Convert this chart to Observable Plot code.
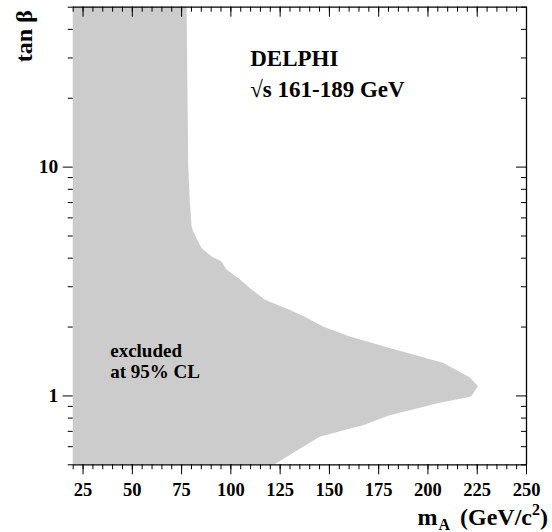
<!DOCTYPE html>
<html><head><meta charset="utf-8">
<script src="https://cdn.jsdelivr.net/npm/d3@7"></script>
<script src="https://cdn.jsdelivr.net/npm/@observablehq/plot@0.6"></script>
<style>body{margin:0;background:#fff} svg{display:block}</style>
</head><body><div id="chart"></div>
<script>
// Excluded-region boundary (m_A in GeV/c^2, tan beta), from top to bottom
const boundaryM   = [77.8, 78.6, 79.4, 80.3, 81.1, 85.4, 90.5, 95.5, 98.0, 104.0, 110.0, 117.5, 130.0, 137.7, 147.0, 160.6, 180.8, 207.8, 221.4, 225.6, 222.2, 206.2, 180.8, 167.3, 158.9, 145.3, 136.1, 122.5];
const boundaryTan = [50,   10,   7.1,  5.5,  5.2,  4.4,  4.05, 3.85, 3.55, 3.26,  2.94,  2.62,  2.37,  2.21,  2.0,   1.81,  1.61,  1.39,  1.2,   1.1,   0.99,  0.93,  0.82,  0.74,  0.71,  0.66,  0.59,  0.5];
const xDomain = [20, 250];
const yDomain = [0.5, 50];
const xMajorTicks = [25, 50, 75, 100, 125, 150, 175, 200, 225, 250];
const xMinorTicks = d3.range(20, 251, 5);
const yMajorTicks = [1, 10];
const yMinorTicks = [0.5, 0.6, 0.7, 0.8, 0.9, 2, 3, 4, 5, 6, 7, 8, 9, 20, 30, 40, 50];
const titleLines = ["DELPHI", "√s 161-189 GeV"];
const regionLines = ["excluded", "at 95% CL"];
const yLabel = "tan β";

const region = boundaryM.map((m, i) => ({m, tan: boundaryTan[i]}));

const W = 552, H = 532;
const mL = 72.7, mR = 26, mT = 6.7, mB = 67.7;
const frameW = W - mL - mR, frameH = H - mT - mB;
const font = "'Liberation Serif', 'Times New Roman', serif";

const chart = Plot.plot({
  width: W, height: H,
  marginLeft: mL, marginRight: mR, marginTop: mT, marginBottom: mB,
  style: {fontFamily: font, fontWeight: "bold", background: "#fff", color: "#000", overflow: "visible"},
  x: {domain: xDomain, label: null},
  y: {type: "log", domain: yDomain, label: null},
  marks: [
    Plot.areaX(region, {y: "tan", x1: xDomain[0], x2: "m", fill: "#cccccc", curve: "linear"}),
    // frame (top, right, bottom)
    Plot.ruleY([yDomain[1]], {stroke: "#000", strokeWidth: 1.3}),
    Plot.ruleY([yDomain[0]], {stroke: "#000", strokeWidth: 1.3}),
    Plot.ruleX([xDomain[1]], {stroke: "#000", strokeWidth: 1.3}),
    // bottom axis (outward)
    Plot.axisX(xMajorTicks, {tickSize: 10, tickPadding: 8, fontSize: 18.5, fontWeight: "bold", label: null, stroke: "#000"}),
    Plot.axisX(xMinorTicks, {tickSize: 5, tickFormat: () => "", label: null, stroke: "#000"}),
    // left axis (outward)
    Plot.axisY(yMajorTicks, {tickSize: 10, tickPadding: 5, fontSize: 19.5, fontWeight: "bold", label: null, tickFormat: d => String(d), stroke: "#000"}),
    Plot.axisY(yMinorTicks, {tickSize: 5, tickFormat: () => "", label: null, stroke: "#000"}),
    // mirrored ticks (inward) on top and right
    Plot.ruleX(xMajorTicks, {insetBottom: frameH - 10, stroke: "#000"}),
    Plot.ruleX(xMinorTicks, {insetBottom: frameH - 5, stroke: "#000"}),
    Plot.ruleY(yMajorTicks, {insetLeft: frameW - 10, stroke: "#000"}),
    Plot.ruleY(yMinorTicks, {insetLeft: frameW - 5, stroke: "#000"}),
    // annotations
    Plot.text([titleLines.join("\n")], {text: d => d, frameAnchor: "top-left", textAnchor: "start", lineAnchor: "top", dx: 177, dy: 36.6, fontSize: 23, fontWeight: "bold", lineHeight: 1.35, fill: "#000"}),
    Plot.text([regionLines.join("\n")], {text: d => d, frameAnchor: "top-left", textAnchor: "start", lineAnchor: "top", dx: 37, dy: 335.5, fontSize: 19, fontWeight: "bold", lineHeight: 1.09, fill: "#000"}),
    Plot.text([yLabel], {text: d => d, frameAnchor: "top-left", rotate: -90, textAnchor: "end", lineAnchor: "bottom", dx: -41, dy: 3, fontSize: 24, fontWeight: "bold", fill: "#000"})
  ]
});

// x-axis title with subscript and superscript
const svg = d3.select(chart);
const t = svg.append("text")
  .attr("x", 548).attr("y", 525)
  .attr("text-anchor", "end")
  .attr("font-family", font).attr("font-weight", "bold").attr("font-size", 24)
  .attr("fill", "#000");
t.append("tspan").text("m");
t.append("tspan").attr("dy", 5).attr("dx", 1).attr("font-size", 16).text("A");
t.append("tspan").attr("dy", -5).attr("dx", 4).text(" (GeV/c");
t.append("tspan").attr("dy", -10).attr("font-size", 16).text("2");
t.append("tspan").attr("dy", 10).text(")");

document.getElementById("chart").append(chart);
</script>
</body></html>
